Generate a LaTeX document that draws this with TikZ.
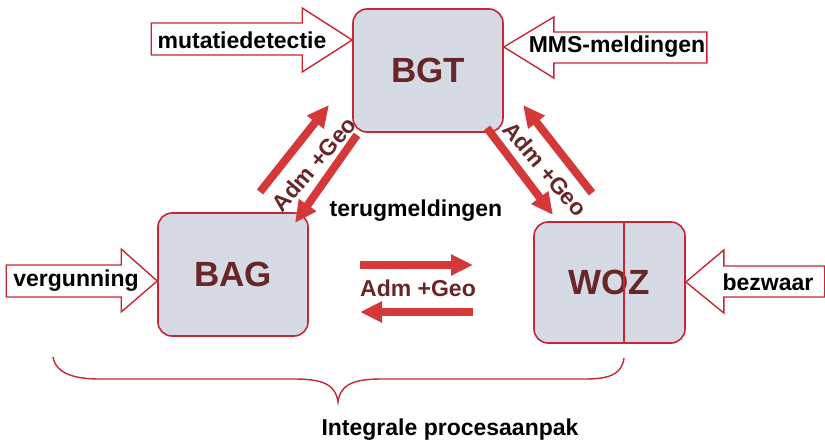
\documentclass[tikz,border=0pt]{standalone}
\usepackage{fontspec}
\setmainfont{Liberation Sans}
\usetikzlibrary{arrows.meta}

\definecolor{boxred}{RGB}{200,38,52}
\definecolor{flowred}{RGB}{212,56,56}
\definecolor{boxfill}{RGB}{214,218,229}
\definecolor{labelred}{RGB}{104,38,38}

\tikzset{
  sysbox/.style={draw=boxred, line width=1.6pt, fill=boxfill, rounded corners=14pt,
    minimum width=150pt, minimum height=123pt, text=labelred,
    font=\fontsize{35}{40}\selectfont\bfseries},
  inarrow/.style={draw=boxred, line width=1.4pt, fill=white},
  intext/.style={font=\fontsize{23}{27}\selectfont\bfseries, text=black},
  flow/.style={draw=flowred, line width=8pt, -{Triangle[length=22pt,width=20pt]}},
  flowtext/.style={font=\fontsize{23}{27}\selectfont\bfseries, text=labelred, inner sep=0pt},
}

\begin{document}
\begin{tikzpicture}[x=1pt,y=-1pt]
\useasboundingbox (0,0) rectangle (825,444);

%the three registers
\node [sysbox] (bgt) at (428,70.5) {BGT};
\node [sysbox] (bag) at (233,274.5) {BAG};
\node [sysbox, minimum width=151pt, minimum height=121pt] (woz) at (609.5,282.5) {WOZ};
\draw [draw=boxred, line width=1.6pt] ([xshift=14.5pt]woz.north) -- ([xshift=14.5pt]woz.south);

%incoming block arrows
\draw [inarrow] (bgt.west |- 0,40) -- ++(-50,-32) -- ++(0,15) -- ++(-151,0) -- ++(0,32) -- ++(151,0) -- ++(0,17) -- cycle;
\node [intext] (mutatie) at (242,40) {mutatiedetectie};

\draw [inarrow] (bgt.east |- 0,47) -- ++(50,-30) -- ++(0,15) -- ++(153,0) -- ++(0,31) -- ++(-153,0) -- ++(0,15) -- cycle;
\node [intext] (mms) at (617,47) {MMS-meldingen};

\draw [inarrow] (bag.west |- 0,281) -- ++(-36,-32) -- ++(0,16) -- ++(-115,0) -- ++(0,32) -- ++(115,0) -- ++(0,15) -- cycle;
\node [intext] (vergunning) at (76,281) {vergunning};

\draw [inarrow] (woz.east |- 0,282) -- ++(38,-32) -- ++(0,16) -- ++(101,0) -- ++(0,31) -- ++(-101,0) -- ++(0,16) -- cycle;
\node [intext] (bezwaar) at (768,282) {bezwaar};

%exchange between the registers
\coordinate (bag-out) at (260,192);
\coordinate (bgt-in1) at (329,105);
\coordinate (bgt-out1) at (357,135);
\coordinate (bag-in) at (295,223);
\draw [flow] (bag-out) -- (bgt-in1);
\draw [flow] (bgt-out1) -- (bag-in);
\node [flowtext, rotate=49.6] (admgeo-l) at (314,164) {Adm +Geo};

\coordinate (bgt-out2) at (487,128);
\coordinate (woz-in) at (553,215);
\coordinate (woz-out) at (592,193);
\coordinate (bgt-in2) at (523,105);
\draw [flow] (bgt-out2) -- (woz-in);
\draw [flow] (woz-out) -- (bgt-in2);
\node [flowtext, rotate=-49.6] (admgeo-r) at (545,169) {Adm +Geo};

\coordinate (bag-r1) at (360,265);
\coordinate (woz-l1) at (473,265);
\coordinate (woz-l2) at (473,312);
\coordinate (bag-r2) at (360,312);
\draw [flow] (bag-r1) -- (woz-l1);
\draw [flow] (woz-l2) -- (bag-r2);
\node [flowtext] (admgeo-m) at (418,288) {Adm +Geo};

\node [intext] (terug) at (416,211) {terugmeldingen};

%the brace
\draw [draw=boxred, line width=1.4pt] (53,357) .. controls (56,374) and (75,379) .. (100,379) -- (295,379)
  .. controls (325,379) and (336,386) .. (338,402) .. controls (340,386) and (351,379) .. (381,379)
  -- (585,379) .. controls (610,379) and (622,374) .. (624,358);
\node [intext] (integraal) at (450,430) {Integrale procesaanpak};

\end{tikzpicture}
\end{document}
